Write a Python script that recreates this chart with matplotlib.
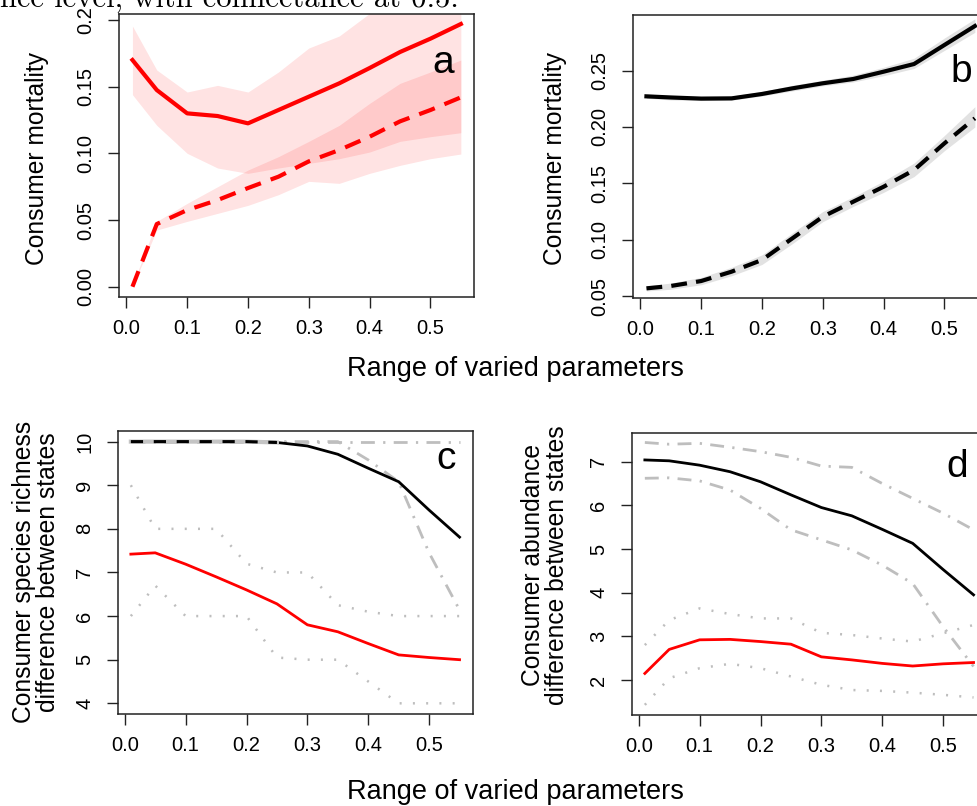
import matplotlib
matplotlib.use("Agg")
import matplotlib.pyplot as plt
import numpy as np

plt.rcParams['font.family'] = ['Liberation Sans', 'DejaVu Sans']

# x values (range of varied parameters)
x = [0.01, 0.05, 0.1, 0.15, 0.2, 0.25, 0.3, 0.35, 0.4, 0.45, 0.5, 0.55]
xticks = [0.0, 0.1, 0.2, 0.3, 0.4, 0.5]

# panel a - consumer mortality (red)
a_solid = [0.170, 0.1475, 0.130, 0.128, 0.1225, 0.1325, 0.1425, 0.1525, 0.164, 0.176, 0.186, 0.197]
a_solid_lo = [0.144, 0.121, 0.100, 0.089, 0.085, 0.089, 0.0925, 0.096, 0.101, 0.109, 0.1125, 0.1155]
a_solid_hi = [0.1955, 0.1625, 0.146, 0.151, 0.146, 0.161, 0.179, 0.188, 0.205, 0.220, 0.232, 0.240]
a_dash = [0.0, 0.047, 0.0575, 0.065, 0.074, 0.0825, 0.094, 0.1025, 0.1125, 0.124, 0.1325, 0.142]
a_dash_lo = [0.0, 0.0425, 0.049, 0.055, 0.061, 0.069, 0.079, 0.0775, 0.085, 0.091, 0.096, 0.0995]
a_dash_hi = [0.001, 0.049, 0.0625, 0.075, 0.0875, 0.0975, 0.109, 0.121, 0.1375, 0.1525, 0.161, 0.170]

# panel b - consumer mortality (black)
b_solid = [0.2272, 0.2262, 0.2252, 0.2254, 0.2293, 0.2343, 0.2388, 0.2426, 0.2491, 0.2559, 0.2728, 0.2896]
b_solid_lo = [0.2255, 0.2240, 0.2235, 0.2238, 0.2275, 0.2320, 0.2365, 0.2400, 0.2455, 0.2520, 0.2680, 0.2840]
b_solid_hi = [0.2292, 0.2280, 0.2272, 0.2275, 0.2315, 0.2370, 0.2415, 0.2460, 0.2530, 0.2610, 0.2790, 0.2960]
b_dash = [0.0568, 0.0589, 0.0633, 0.0716, 0.0820, 0.1012, 0.1204, 0.1337, 0.1470, 0.1618, 0.1855, 0.2077]
b_dash_lo = [0.0545, 0.0560, 0.0600, 0.0680, 0.0780, 0.0965, 0.1160, 0.1295, 0.1420, 0.1560, 0.1790, 0.2000]
b_dash_hi = [0.0590, 0.0615, 0.0665, 0.0755, 0.0865, 0.1060, 0.1250, 0.1380, 0.1520, 0.1680, 0.1925, 0.2180]

# panel c - species richness difference
c_red = [7.42, 7.45, 7.19, 6.90, 6.60, 6.28, 5.80, 5.64, 5.37, 5.11, 5.05, 5.00]
c_red_hi = [9.0, 8.0, 8.0, 8.0, 7.2, 7.0, 7.0, 6.25, 6.1, 6.0, 6.0, 6.0]
c_red_lo = [6.0, 6.7, 6.0, 6.0, 6.0, 5.05, 5.0, 5.0, 4.5, 4.0, 4.0, 4.0]
c_black = [10.0, 10.0, 10.0, 10.0, 10.0, 9.98, 9.90, 9.71, 9.39, 9.08, 8.43, 7.81]
c_black_med = [10.0, 10.0, 10.0, 10.0, 10.0, 9.98]
c_black_hi = [10.0, 10.0, 10.0, 10.0, 10.0, 10.0, 10.0, 10.0, 10.0, 10.0, 10.0, 10.0]
c_black_lo = [10.0, 10.0, 10.0, 10.0, 10.0, 10.0, 10.0, 10.0, 9.58, 9.08, 7.45, 6.14]

# panel d - abundance difference
d_red = [2.15, 2.70, 2.92, 2.93, 2.88, 2.82, 2.53, 2.46, 2.38, 2.32, 2.37, 2.40]
d_red_hi = [2.80, 3.37, 3.64, 3.51, 3.41, 3.41, 3.08, 3.03, 2.95, 2.88, 3.07, 3.26]
d_red_lo = [1.43, 2.04, 2.27, 2.37, 2.27, 2.08, 1.89, 1.77, 1.75, 1.71, 1.66, 1.60]
d_black = [7.04, 7.02, 6.92, 6.77, 6.54, 6.24, 5.95, 5.76, 5.45, 5.13, 4.53, 3.95]
d_black_hi = [7.44, 7.40, 7.42, 7.33, 7.23, 7.10, 6.90, 6.87, 6.50, 6.16, 5.82, 5.44]
d_black_lo = [6.62, 6.63, 6.56, 6.35, 5.93, 5.44, 5.21, 4.98, 4.63, 4.21, 3.22, 2.31]

W, H = 977, 806
fig = plt.figure(figsize=(W / 100, H / 100), dpi=100)


def box(l, t, r, b):
    return [l / W, 1 - b / H, (r - l) / W, (b - t) / H]


ax_a = fig.add_axes(box(119.3, 14, 474, 297))
ax_b = fig.add_axes(box(633.3, 15, 988, 297.7))
ax_c = fig.add_axes(box(117.7, 430.7, 472.7, 714))
ax_d = fig.add_axes(box(631.7, 432.7, 986.7, 715))

red = '#ff0000'
gray = '#bebebe'
dashdot = (0, (5, 3, 0.8, 3))
dotted = (0, (0.8, 4.5))

# a
ax_a.fill_between(x, a_solid_lo, a_solid_hi, color=red, alpha=0.11, lw=0)
ax_a.fill_between(x, a_dash_lo, a_dash_hi, color=red, alpha=0.11, lw=0)
ax_a.plot(x, a_solid, color=red, lw=3)
ax_a.plot(x, a_dash, color=red, lw=3, ls=(0, (4, 2.5)))
ax_a.set_ylim(-0.0077, 0.2045)
ax_a.set_yticks([0.0, 0.05, 0.10, 0.15, 0.2])
ax_a.set_yticklabels(['0.00', '0.05', '0.10', '0.15', '0.2'])

# b
ax_b.fill_between(x, b_solid_lo, b_solid_hi, color='#e2e2e2', lw=0)
ax_b.fill_between(x, b_dash_lo, b_dash_hi, color='#e2e2e2', lw=0)
ax_b.plot(x, b_solid, color='black', lw=3)
ax_b.plot(x, b_dash, color='black', lw=3, ls=(0, (3.8, 2.2)))
ax_b.set_ylim(0.0485, 0.2994)
ax_b.set_yticks([0.05, 0.10, 0.15, 0.20, 0.25])
ax_b.set_yticklabels(['0.05', '0.10', '0.15', '0.20', '0.25'])

# c
ax_c.plot(x, c_red_hi, color=gray, lw=1.8, ls=dotted)
ax_c.plot(x, c_red_lo, color=gray, lw=1.8, ls=dotted)
ax_c.plot(x, c_black_hi, color=gray, lw=2, ls=dashdot)
ax_c.plot(x, c_black_lo, color=gray, lw=2, ls=dashdot)
ax_c.plot(x, c_red, color=red, lw=2)
ax_c.plot(x[5:], c_black[5:], color='black', lw=2)
ax_c.plot(x[:6], c_black_med, color='#c4c4c4', lw=3)
ax_c.plot(x[:6], c_black_med, color='black', lw=2.2, ls=(0, (4, 3.5)))
ax_c.set_ylim(3.755, 10.25)
ax_c.set_yticks([4, 5, 6, 7, 8, 9, 10])

# d
ax_d.plot(x, d_red_hi, color=gray, lw=1.8, ls=dotted)
ax_d.plot(x, d_red_lo, color=gray, lw=1.8, ls=dotted)
ax_d.plot(x, d_black_hi, color=gray, lw=2, ls=dashdot)
ax_d.plot(x, d_black_lo, color=gray, lw=2, ls=dashdot)
ax_d.plot(x, d_red, color=red, lw=2)
ax_d.plot(x, d_black, color='black', lw=2)
ax_d.set_ylim(1.198, 7.664)
ax_d.set_yticks([2, 3, 4, 5, 6, 7])

for ax in (ax_a, ax_b, ax_c, ax_d):
    ax.set_xlim(-0.0116, 0.5716)
    ax.set_xticks(xticks)
    ax.set_xticklabels(['0.0', '0.1', '0.2', '0.3', '0.4', '0.5'])
    ax.tick_params(length=8, width=1, labelsize=14.5, color='#222222')
    ax.tick_params(axis='x', pad=8)
    ax.tick_params(axis='y', pad=9)
    for lab in ax.get_yticklabels():
        lab.set_rotation(90)
        lab.set_va('center')
    for sp in ax.spines.values():
        sp.set_linewidth(1.1)
        sp.set_color('#222222')

# panel letters
fig.text(443.3 / W, 1 - 73.3 / H, 'a', fontsize=28, ha='center', va='baseline')
fig.text(961.7 / W, 1 - 81.7 / H, 'b', fontsize=28, ha='center', va='baseline')
fig.text(445.7 / W, 1 - 469.3 / H, 'c', fontsize=28, ha='center', va='baseline')
fig.text(956.7 / W, 1 - 476.7 / H, 'd', fontsize=28, ha='center', va='baseline')

# axis labels
fig.text(37 / W, 1 - 158 / H, 'Consumer mortality', fontsize=17.7, rotation=90, ha='center', va='center')
fig.text(555 / W, 1 - 158 / H, 'Consumer mortality', fontsize=17.7, rotation=90, ha='center', va='center')
fig.text(36 / W, 1 - 572 / H, 'Consumer species richness\ndifference between states', fontsize=17.7,
         rotation=90, ha='center', va='center', linespacing=1.0)
fig.text(545 / W, 1 - 565 / H, 'Consumer abundance\ndifference between states', fontsize=17.7,
         rotation=90, ha='center', va='center', linespacing=1.0)
fig.text(515 / W, 1 - 369 / H, 'Range of varied parameters', fontsize=19.5, ha='center', va='center')
fig.text(515 / W, 1 - 792 / H, 'Range of varied parameters', fontsize=19.5, ha='center', va='center')

# caption fragment cut off at the top
fig.text(0, 1 - 7 / H, 'nce level, with connectance at 0.5.', fontsize=22, family='cmr10',
         ha='left', va='baseline')

fig.savefig('out.png', dpi=100)
